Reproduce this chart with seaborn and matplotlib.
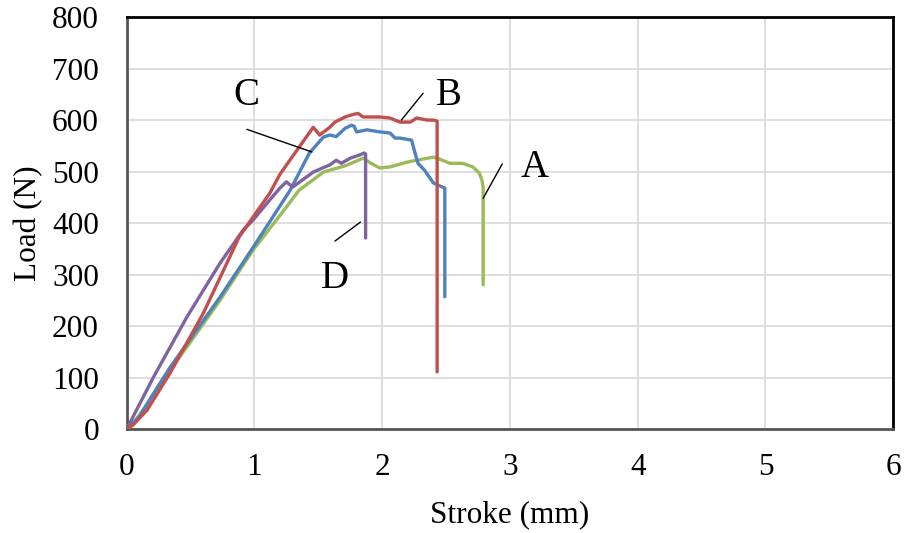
import matplotlib
matplotlib.use('Agg')
import matplotlib.pyplot as plt
import seaborn as sns
import pandas as pd

# Load-stroke curves
a_x = [0, 0.05, 0.15, 0.26, 0.47, 0.73, 0.99, 1.25, 1.35, 1.54, 1.72, 1.85, 1.92, 1.98, 2.06, 2.19, 2.27, 2.40, 2.45, 2.53, 2.63, 2.71, 2.76, 2.78, 2.79, 2.79]
a_y = [0, 10, 45, 89, 159, 250, 348, 431, 464, 499, 512, 526, 515, 507, 509, 518, 522, 528, 524, 516, 516, 509, 497, 484, 470, 280]

b_x = [0, 0.05, 0.16, 0.34, 0.60, 0.88, 1.12, 1.20, 1.46, 1.51, 1.59, 1.63, 1.71, 1.76, 1.81, 1.85, 1.90, 1.98, 2.06, 2.14, 2.22, 2.27, 2.35, 2.40, 2.43, 2.43]
b_y = [0, 8, 37, 109, 225, 373, 458, 495, 586, 571, 586, 596, 606, 610, 613, 606, 606, 606, 604, 596, 596, 604, 600, 600, 598, 111]

c_x = [0, 0.10, 0.34, 0.73, 0.99, 1.28, 1.43, 1.54, 1.59, 1.64, 1.71, 1.76, 1.78, 1.80, 1.88, 1.98, 2.06, 2.10, 2.14, 2.23, 2.25, 2.28, 2.33, 2.40, 2.47, 2.49, 2.49]
c_y = [0, 25, 120, 256, 353, 464, 536, 567, 571, 568, 584, 590, 588, 577, 581, 577, 575, 565, 565, 561, 542, 516, 503, 478, 470, 468, 257]

d_x = [0, 0.21, 0.47, 0.73, 0.91, 0.99, 1.12, 1.20, 1.25, 1.30, 1.46, 1.59, 1.64, 1.68, 1.75, 1.82, 1.86, 1.87, 1.87]
d_y = [0, 101, 217, 322, 386, 406, 445, 468, 480, 470, 499, 513, 522, 516, 526, 532, 536, 534, 371]

series = {'A': (a_x, a_y), 'B': (b_x, b_y), 'C': (c_x, c_y), 'D': (d_x, d_y)}
colors = {'A': '#9BBB59', 'B': '#C0504D', 'C': '#4F81BD', 'D': '#8064A2'}

# label text position and leader line (text xy, line start, line end)
labels = {
    'A': ((3.19, 507), (2.94, 515), (2.79, 448)),
    'B': ((2.52, 647), (2.32, 652), (2.15, 600)),
    'C': ((0.94, 647), (0.94, 582), (1.45, 538)),
    'D': ((1.63, 293), (1.63, 365), (1.83, 402)),
}

frames = []
for name, (xs, ys) in series.items():
    frames.append(pd.DataFrame({'Stroke': xs, 'Load': ys, 'Specimen': name}))
df = pd.concat(frames, ignore_index=True)

sns.set_style('white')
plt.rcParams['font.family'] = ['Liberation Serif', 'DejaVu Serif']

fig = plt.figure(figsize=(9.05, 5.33), dpi=100)
ax = fig.add_axes([0.140, 0.195, 0.847, 0.773])

for name in ['A', 'C', 'D', 'B']:
    sub = df[df['Specimen'] == name]
    sns.lineplot(data=sub, x='Stroke', y='Load', sort=False, estimator=None,
                 color=colors[name], linewidth=2.4, ax=ax, zorder=3)

for name, (txt, p0, p1) in labels.items():
    ax.text(txt[0], txt[1], name, fontsize=28, ha='center', va='center',
            color='black', zorder=4)
    ax.plot([p0[0], p1[0]], [p0[1], p1[1]], color='black', linewidth=1, zorder=4)

ax.set_xlim(0, 6)
ax.set_ylim(0, 800)
ax.set_xticks(range(0, 7))
ax.set_yticks(range(0, 801, 100))
ax.grid(True, color='#d9d9d9', linewidth=1.2)
ax.set_axisbelow(True)
ax.tick_params(axis='both', labelsize=22.5, length=0, labelcolor='black')
ax.tick_params(axis='y', pad=20)
ax.tick_params(axis='x', pad=17)
ax.set_xlabel('Stroke (mm)', fontsize=22.5, labelpad=13, color='black')
ax.set_ylabel('Load (N)', fontsize=22.5, labelpad=6, color='black')
for s in ax.spines.values():
    s.set_visible(True)
    s.set_color('black')
    s.set_linewidth(2)
ax.spines['left'].set_color('#555555')
ax.spines['bottom'].set_color('#555555')

fig.savefig('out.png', dpi=100)
